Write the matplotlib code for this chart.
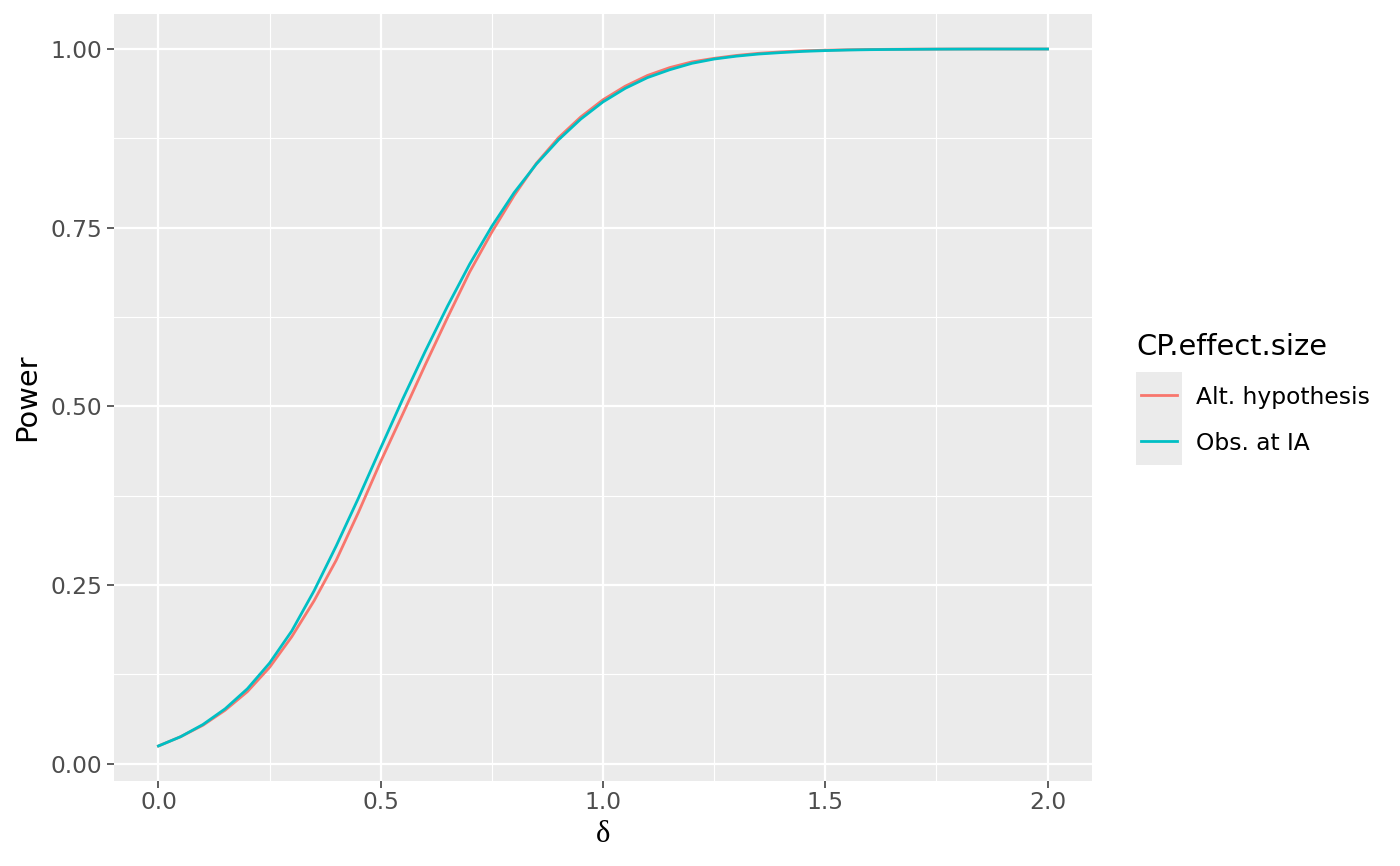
import matplotlib
matplotlib.use("Agg")
import matplotlib.pyplot as plt
from matplotlib.lines import Line2D
from matplotlib.patches import Rectangle

# delta grid and power curves
delta = [0.00, 0.05, 0.10, 0.15, 0.20, 0.25, 0.30, 0.35, 0.40, 0.45,
         0.50, 0.55, 0.60, 0.65, 0.70, 0.75, 0.80, 0.85, 0.90, 0.95,
         1.00, 1.05, 1.10, 1.15, 1.20, 1.25, 1.30, 1.35, 1.40, 1.45,
         1.50, 1.55, 1.60, 1.65, 1.70, 1.75, 1.80, 1.85, 1.90, 1.95, 2.00]

power_alt = [0.025, 0.038, 0.054, 0.075, 0.101, 0.135, 0.178, 0.228, 0.285, 0.352,
             0.423, 0.490, 0.558, 0.624, 0.688, 0.744, 0.795, 0.840, 0.876, 0.905,
             0.929, 0.948, 0.963, 0.974, 0.982, 0.987, 0.991, 0.994, 0.996, 0.9975,
             0.9984, 0.999, 0.9994, 0.9996, 0.9998, 0.9999, 1.0, 1.0, 1.0, 1.0, 1.0]

power_obs = [0.025, 0.038, 0.055, 0.077, 0.105, 0.141, 0.186, 0.242, 0.305, 0.372,
             0.442, 0.511, 0.577, 0.640, 0.699, 0.752, 0.799, 0.839, 0.873, 0.902,
             0.926, 0.945, 0.960, 0.971, 0.980, 0.986, 0.990, 0.993, 0.995, 0.9967,
             0.9978, 0.9986, 0.9991, 0.9994, 0.9996, 0.9998, 0.9999, 1.0, 1.0, 1.0, 1.0]

series_names = ["Alt. hypothesis", "Obs. at IA"]
series_colors = ["#F8766D", "#00BFC4"]

x_ticks = [0.0, 0.5, 1.0, 1.5, 2.0]
x_labels = ["0.0", "0.5", "1.0", "1.5", "2.0"]
y_ticks = [0.0, 0.25, 0.50, 0.75, 1.00]
y_labels = ["0.00", "0.25", "0.50", "0.75", "1.00"]

W, H = 1400, 866
fig = plt.figure(figsize=(14, 8.66), dpi=100)
ax = fig.add_axes([114 / W, 1 - 781 / H, (1092 - 114) / W, (781 - 14) / H])

ax.set_facecolor("#EBEBEB")
for s in ax.spines.values():
    s.set_visible(False)

# grille style ggplot
ax.set_xticks(x_ticks)
ax.set_xticklabels(x_labels)
ax.set_yticks(y_ticks)
ax.set_yticklabels(y_labels)
ax.set_xticks([0.25, 0.75, 1.25, 1.75], minor=True)
ax.set_yticks([0.125, 0.375, 0.625, 0.875], minor=True)
ax.grid(which="major", color="white", linewidth=1.6)
ax.grid(which="minor", color="white", linewidth=0.8)
ax.set_axisbelow(True)
ax.tick_params(which="major", length=5, width=1.1, color="#333333",
               labelcolor="#4D4D4D", labelsize=16.8)
ax.tick_params(axis="y", pad=3.5)
ax.tick_params(axis="x", pad=2.5)
ax.tick_params(which="minor", length=0)

ax.plot(delta, power_alt, color=series_colors[0], linewidth=2.0)
ax.plot(delta, power_obs, color=series_colors[1], linewidth=2.0)

ax.set_xlim(-0.1, 2.1)
ax.set_ylim(-0.024, 1.049)

ax.set_ylabel("Power", fontsize=20.8, color="black", va="center")
ax.yaxis.set_label_coords((27 - 114) / 978, 0.5)
ax.set_xlabel("δ", fontsize=22, family="Liberation Serif", color="black", va="center")
ax.xaxis.set_label_coords(0.5, (781 - 834) / 767)

# legende dessinee a la main
fig.text(1136 / W, 1 - 355 / H, "CP.effect.size", fontsize=20.8,
         ha="left", va="baseline", color="black")
fig.patches.append(Rectangle((1136 / W, 1 - 465 / H), 46 / W, 93 / H,
                             transform=fig.transFigure, facecolor="#EBEBEB",
                             edgecolor="none"))
for i, (name, col) in enumerate(zip(series_names, series_colors)):
    yy = 1 - (395 + 46 * i) / H
    fig.lines.append(Line2D([1141 / W, 1177 / W], [yy, yy], color=col,
                            linewidth=2.0, transform=fig.transFigure))
    fig.text(1196 / W, 1 - (404 + 46 * i) / H, name, fontsize=16.8,
             ha="left", va="baseline", color="black")

fig.savefig("out.png", dpi=100)
